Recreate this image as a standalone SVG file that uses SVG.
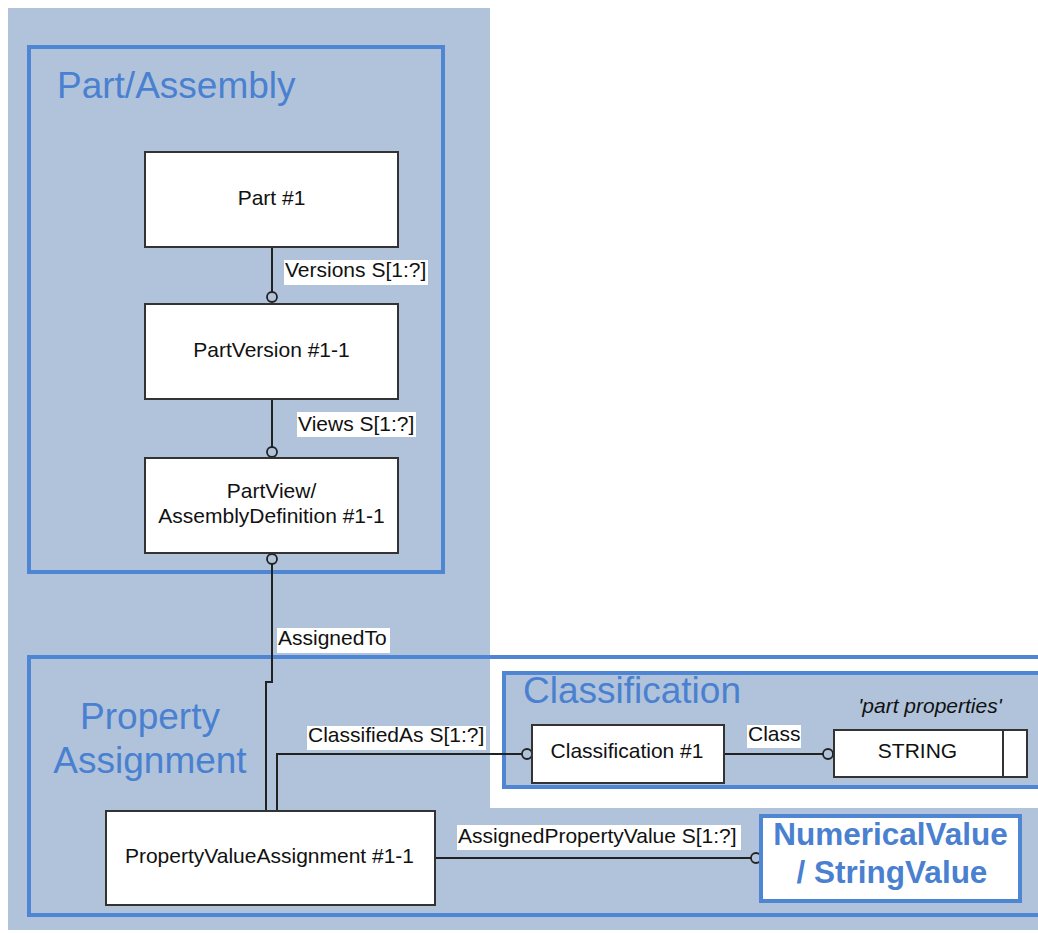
<svg xmlns="http://www.w3.org/2000/svg" width="1038" height="933" viewBox="0 0 1038 933">
<style>
.bg{fill:#b0c3db}
.grp{fill:none;stroke:#4f86d4;stroke-width:4}
.title{font-family:"Liberation Sans",Arial,sans-serif;font-size:37px;fill:#4a80d0}
.node{fill:#ffffff;stroke:#333333;stroke-width:2}
.nt{font-family:"Liberation Sans",Arial,sans-serif;font-size:21px;fill:#111111;text-anchor:middle}
.lbl{font-family:"Liberation Sans",Arial,sans-serif;font-size:21px;fill:#111111}
.lblbg{fill:#ffffff}
.conn{fill:none;stroke:#222222;stroke-width:2}
.dot{fill:#b0c3db;stroke:#222222;stroke-width:1.8}
</style>
<rect width="1038" height="933" fill="#ffffff"/>
<path class="bg" d="M8 8 H490 V655 H1038 V930 H8 Z"/>
<rect x="490" y="659" width="548" height="149" fill="#ffffff"/>

<g id="group-part-assembly">
<rect class="grp" x="29" y="47" width="414" height="525"/>
<text class="title" x="57" y="98">Part/Assembly</text>
</g>
<g id="group-property-assignment">
<rect class="grp" x="29" y="657" width="1030" height="258"/>
<text class="title" x="150" y="729" text-anchor="middle">Property</text>
<text class="title" x="150" y="773" text-anchor="middle">Assignment</text>
</g>
<g id="group-classification">
<rect x="504" y="673" width="550" height="114" fill="#b0c3db" stroke="#4f86d4" stroke-width="4"/>
<text class="title" x="523" y="703">Classification</text>
</g>

<g id="connectors">
<line class="conn" x1="272" y1="247" x2="272" y2="292"/>
<circle class="dot" cx="272" cy="297" r="5"/>
<line class="conn" x1="272" y1="399" x2="272" y2="447"/>
<circle class="dot" cx="272" cy="452" r="5"/>
<circle class="dot" cx="272" cy="559" r="5"/>
<path class="conn" d="M272 564 V682 H266 V811"/>
<path class="conn" d="M277 811 V754 H522"/>
<circle class="dot" cx="527" cy="754" r="5"/>
<line class="conn" x1="724" y1="754" x2="823" y2="754"/>
<circle class="dot" cx="828" cy="754" r="5"/>
<line class="conn" x1="435" y1="858" x2="751" y2="858"/>
<circle class="dot" cx="756" cy="858" r="5"/>
<rect class="lblbg" x="284" y="260" width="144" height="25"/>
<text class="lbl" x="285" y="277">Versions S[1:?]</text>
<rect class="lblbg" x="297" y="412" width="119" height="25"/>
<text class="lbl" x="298" y="431">Views S[1:?]</text>
<rect class="lblbg" x="277" y="628" width="113" height="25"/>
<text class="lbl" x="278" y="645">AssignedTo</text>
<rect class="lblbg" x="307" y="726" width="179" height="24"/>
<text class="lbl" x="308" y="742">ClassifiedAs S[1:?]</text>
<rect class="lblbg" x="747" y="725" width="54" height="23"/>
<text class="lbl" x="748" y="741">Class</text>
<rect class="lblbg" x="457" y="825" width="284" height="25"/>
<text class="lbl" x="458" y="843">AssignedPropertyValue S[1:?]</text>
</g>

<g id="node-part">
<rect class="node" x="145" y="152" width="253" height="95"/>
<text class="nt" x="271.5" y="205">Part #1</text>
</g>
<g id="node-partversion">
<rect class="node" x="145" y="304" width="253" height="95"/>
<text class="nt" x="271.5" y="357">PartVersion #1-1</text>
</g>
<g id="node-partview">
<rect class="node" x="145" y="458" width="253" height="95"/>
<text class="nt" x="271.5" y="498">PartView/</text>
<text class="nt" x="271.5" y="523">AssemblyDefinition #1-1</text>
</g>
<g id="node-pva">
<rect class="node" x="106" y="811" width="329" height="94"/>
<text class="nt" x="269.5" y="863">PropertyValueAssignment #1-1</text>
</g>
<g id="node-classification">
<rect class="node" x="532" y="725" width="192" height="58"/>
<text class="nt" x="627" y="758">Classification #1</text>
</g>
<g id="node-string">
<text class="nt" x="930" y="713" font-style="italic">'part properties'</text>
<rect class="node" x="834" y="730" width="193" height="47"/>
<line x1="1003" y1="730" x2="1003" y2="777" stroke="#333333" stroke-width="2"/>
<text class="nt" x="917.5" y="758">STRING</text>
</g>
<g id="node-value">
<rect x="761" y="816" width="259" height="85" fill="#ffffff" stroke="#4f86d4" stroke-width="4"/>
<text x="890.5" y="845" text-anchor="middle" font-family="Liberation Sans, Arial, sans-serif" font-size="31.5" font-weight="bold" fill="#4a80d0">NumericalValue</text>
<text x="892" y="883" text-anchor="middle" font-family="Liberation Sans, Arial, sans-serif" font-size="31.5" font-weight="bold" fill="#4a80d0">/ StringValue</text>
</g>
</svg>
